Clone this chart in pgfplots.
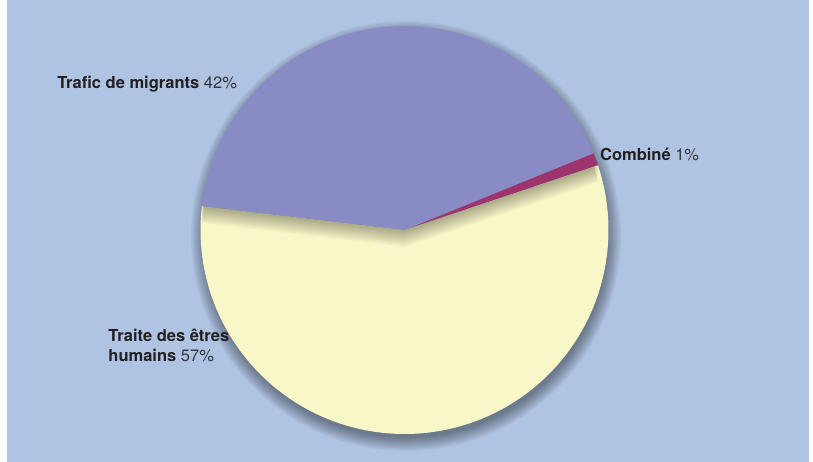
\documentclass[border=0pt]{standalone}
\usepackage{pgfplots}
\pgfplotsset{compat=1.18}
\usepackage{pgfplotstable}
\usepackage{fontspec}
\setmainfont{TeX Gyre Heros}
\definecolor{bgblue}{RGB}{175,196,227}
\definecolor{slicepurple}{RGB}{137,140,196}
\definecolor{sliceyellow}{RGB}{248,247,200}
\definecolor{slicemagenta}{RGB}{158,52,110}
\definecolor{txt}{RGB}{35,31,32}
\definecolor{txtpct}{RGB}{55,55,60}
\pgfplotstableread{
label value
Traite 57
Trafic 42
Combine 1
}\piedata
\begin{document}
\begin{tikzpicture}[x=1bp,y=1bp]
\pgfplotstablegetelem{0}{value}\of\piedata \let\vTraite\pgfplotsretval
\pgfplotstablegetelem{1}{value}\of\piedata \let\vTrafic\pgfplotsretval
\pgfplotstablegetelem{2}{value}\of\piedata \let\vComb\pgfplotsretval
\pgfmathsetmacro\aA{18.5}
\pgfmathsetmacro\aB{\aA+3.6*\vComb}
\pgfmathsetmacro\aC{\aB+3.6*\vTrafic}
\pgfmathsetmacro\aD{\aC+3.6*\vTraite}
\useasboundingbox (0,0) rectangle (813,462);
\fill[white] (0,0) rectangle (813,462);
\fill[bgblue] (7,0) rectangle (809,462);
\coordinate (C) at (404.5,232);
% soft outer shadow
\foreach \k in {0,...,10}{
  \fill[black,opacity=0.04] ([xshift=1.5bp,yshift=-6bp]C) circle[radius=202bp+\k*1.3bp];
}
\begin{axis}[
  at={(C)}, anchor=center,
  scale only axis, width=408bp, height=408bp,
  xmin=-1, xmax=1, ymin=-1, ymax=1,
  hide axis, clip=false,
]
\addplot[draw=none, fill=slicemagenta, domain=\aA:\aB, samples=10, variable=\t] ({cos(\t)},{sin(\t)}) -- (axis cs:0,0) -- cycle;
\addplot[draw=none, fill=slicepurple, domain=\aB:\aC, samples=120, variable=\t] ({cos(\t)},{sin(\t)}) -- (axis cs:0,0) -- cycle;
\addplot[draw=none, fill=sliceyellow, domain=\aC:\aD, samples=160, variable=\t] ({cos(\t)},{sin(\t)}) -- (axis cs:0,0) -- cycle;
\node[anchor=base west, font=\fontsize{16.5bp}{20.6bp}\selectfont, text=txt, inner sep=0pt] at (axis cs:-1.703,0.696) {\textbf{Trafic de migrants} \textcolor{txtpct}{42\%}};
\node[anchor=base west, font=\fontsize{16.5bp}{20.6bp}\selectfont, text=txt, inner sep=0pt] at (axis cs:0.958,0.340) {\textbf{Combiné} \textcolor{txtpct}{1\%}};
\node[anchor=base west, font=\fontsize{16.5bp}{20.6bp}\selectfont, text=txt, inner sep=0pt, align=left] at (axis cs:-1.452,-0.646) {\textbf{Traite des êtres}\\\textbf{humains} \textcolor{txtpct}{57\%}};
\end{axis}
% inner shadow cast on the yellow slice
\begin{scope}
\clip (C) -- ++(\aC:204bp) arc[start angle=\aC, end angle=\aD, radius=204bp] -- cycle;
\foreach \k in {1,...,14}{
  \fill[black,opacity=0.022] ([yshift=-\k*1.2bp]C) -- ++(\aA:204bp) arc[start angle=\aA, end angle=\aC, radius=204bp] -- cycle;
}
\end{scope}
\end{tikzpicture}
\end{document}
